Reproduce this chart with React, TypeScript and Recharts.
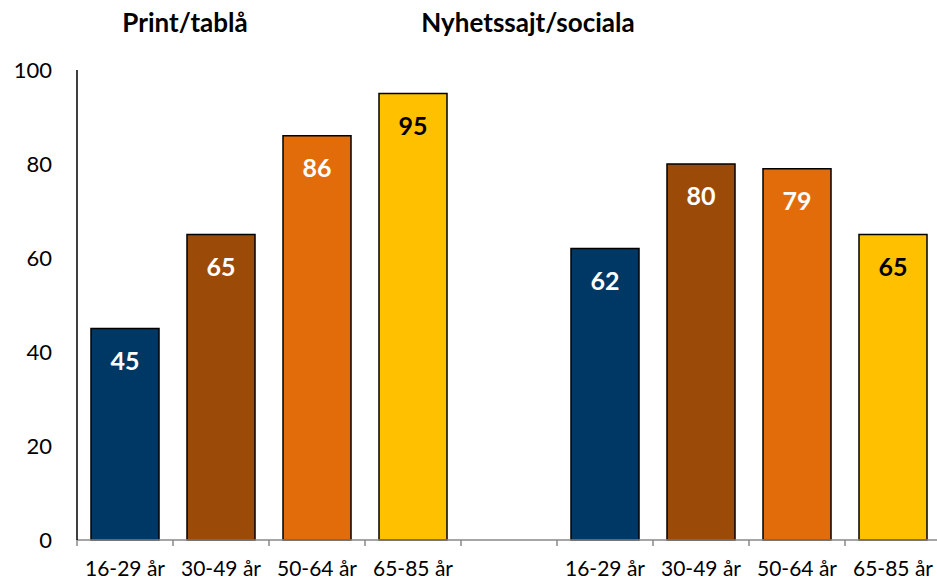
import React from "react";
import { BarChart, Bar, XAxis, YAxis, Cell, LabelList } from "recharts";

const categories = ["16-29 år", "30-49 år", "50-64 år", "65-85 år", "", "16-29 år", "30-49 år", "50-64 år", "65-85 år"];
const values = [45, 65, 86, 95, null, 62, 80, 79, 65];
const barColors = ["#003865", "#9C4A08", "#E36C0A", "#FFC000", "#ffffff", "#003865", "#9C4A08", "#E36C0A", "#FFC000"];
const labelColors = ["#ffffff", "#ffffff", "#ffffff", "#000000", "#000000", "#ffffff", "#ffffff", "#ffffff", "#000000"];
const groupTitles = ["Print/tablå", "Nyhetssajt/sociala"];
const yTicks = [0, 20, 40, 60, 80, 100];

const data = categories.map((c, i) => ({ key: "k" + i, idx: i, label: c, value: values[i] }));

const FONT = "Lato, 'Noto Sans', sans-serif";

const XTick = (props: any) => {
  const { x, y, index, visibleTicksCount, width } = props;
  const bw = width / visibleTicksCount;
  const left = x - bw / 2;
  const isLast = index === visibleTicksCount - 1;
  return (
    <g>
      <line x1={left} x2={left} y1={y - 8} y2={y - 2} stroke="#888" strokeWidth={1.5} />
      {isLast && <line x1={left + bw} x2={left + bw} y1={y - 8} y2={y - 2} stroke="#888" strokeWidth={1.5} />}
      <text x={x} y={y + 19} textAnchor="middle" dominantBaseline="central" fontSize={21} fontFamily={FONT} fill="#000">
        {categories[index]}
      </text>
    </g>
  );
};

const BarLabel = (props: any) => {
  const { x, y, width, value } = props;
  const i = value as number;
  if (values[i] == null) return null;
  return (
    <text x={x + width / 2} y={y + 31} textAnchor="middle" dominantBaseline="central" fontSize={25} fontWeight="bold" fontFamily={FONT} fill={labelColors[i]}>
      {values[i]}
    </text>
  );
};

export default function App() {
  return (
    <div style={{ position: "absolute", left: 0, top: 0, width: 937, height: 580, overflow: "hidden", background: "#fff" }}>
      <div style={{ position: "absolute", left: 185, top: 22, transform: "translate(-50%, -50%)", fontFamily: FONT, fontWeight: "bold", fontSize: 26, whiteSpace: "nowrap" }}>
        {groupTitles[0]}
      </div>
      <div style={{ position: "absolute", left: 528, top: 22, transform: "translate(-50%, -50%)", fontFamily: FONT, fontWeight: "bold", fontSize: 26, whiteSpace: "nowrap" }}>
        {groupTitles[1]}
      </div>
      <BarChart width={945} height={580} data={data} margin={{ top: 70, right: 4, left: 0, bottom: 0 }} barCategoryGap={14}>
        <XAxis dataKey="key" tick={<XTick />} tickLine={false} axisLine={{ stroke: "#888", strokeWidth: 1.5 }} height={40} interval={0} />
        <YAxis domain={[0, 100]} ticks={yTicks} width={77} tickLine={false} tickSize={0} tickMargin={25} axisLine={{ stroke: "#000", strokeWidth: 1.5 }} tick={{ fontSize: 22, fontFamily: FONT, fill: "#000" }} />
        <Bar dataKey="value" isAnimationActive={false} stroke="#000" strokeWidth={1.5}>
          {data.map((d, i) => (
            <Cell key={d.key} fill={barColors[i]} />
          ))}
          <LabelList dataKey="idx" content={<BarLabel />} />
        </Bar>
      </BarChart>
    </div>
  );
}
